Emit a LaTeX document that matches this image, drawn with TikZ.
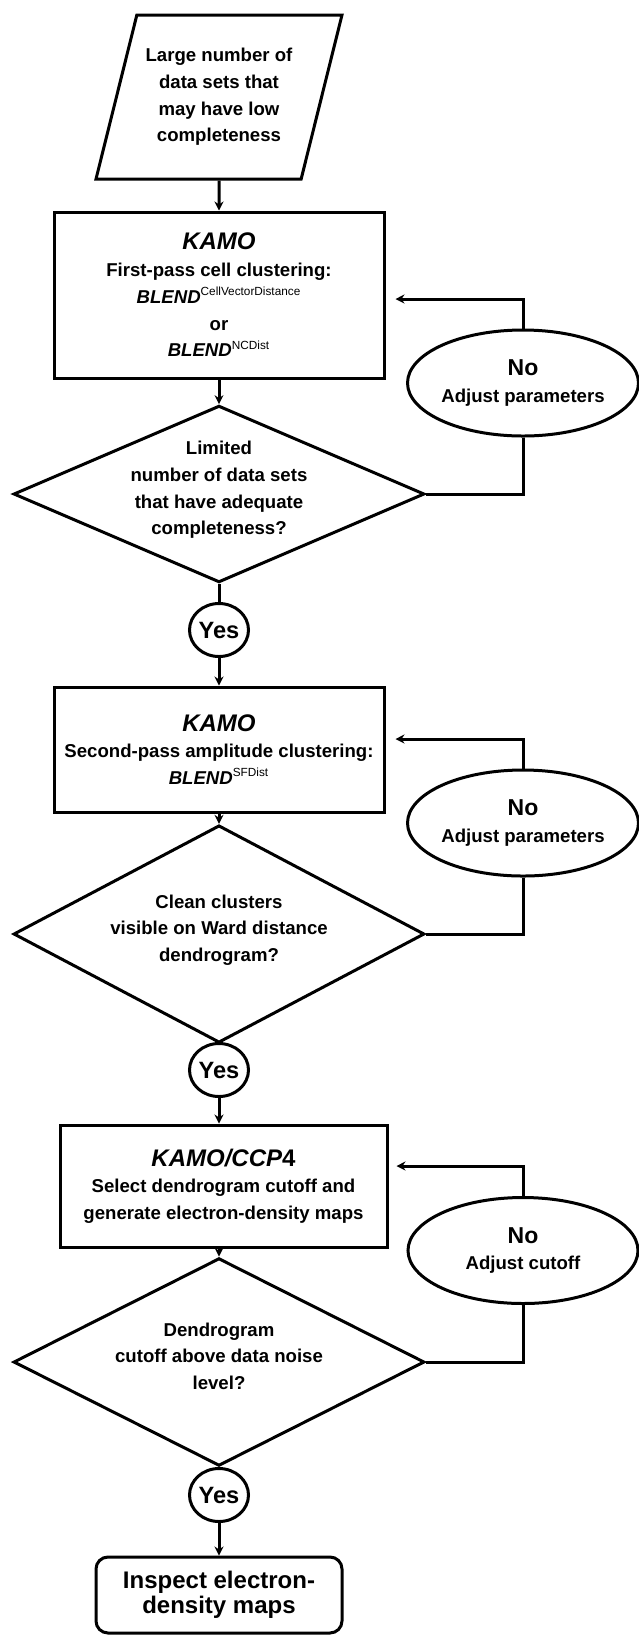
\documentclass[tikz,border=0pt]{standalone}
\usepackage{fontspec}
\setmainfont{Liberation Sans}
\usetikzlibrary{shapes.geometric, arrows.meta}

\newcommand{\blend}[1]{\textit{BLEND}\textsuperscript{\mdseries\fontsize{5.9pt}{6pt}\selectfont #1}}
\newcommand{\bigit}[1]{{\fontsize{12pt}{15pt}\selectfont\itshape #1}}

\begin{document}
\begin{tikzpicture}[x=0.5pt, y=-0.5pt, line width=1.5pt]
					\tikzstyle{every node} = [font=\bfseries\fontsize{9.3pt}{13.35pt}\selectfont, align=center]
					\tikzstyle{input} = [trapezium, trapezium left angle=76, trapezium right angle=104, trapezium stretches body, draw=black, minimum width=123pt, minimum height=82pt, inner xsep=0pt, inner ysep=16.6pt]
					\tikzstyle{process} = [rectangle, draw=black, minimum width=165pt, inner sep=0pt]
					\tikzstyle{decision} = [diamond, draw=black, minimum width=205.5pt, minimum height=81pt, inner sep=0pt]
					\tikzstyle{adjust} = [ellipse, draw=black, minimum width=115pt, minimum height=53pt, inner sep=0pt]
					\tikzstyle{yes} = [ellipse, draw=black, minimum width=29.5pt, minimum height=26.5pt, inner sep=0pt, font=\bfseries\fontsize{11.8pt}{14pt}\selectfont]
					\tikzstyle{result} = [rectangle, rounded corners=6pt, draw=black, minimum width=123pt, minimum height=38pt, inner sep=0pt, font=\bfseries\fontsize{12pt}{12.5pt}\selectfont]
					\tikzstyle{edge} = [-]
					\tikzstyle{arrow} = [-{Stealth[length=4.5pt, width=4.5pt, inset=1.5pt]}]
					\useasboundingbox (0,0) rectangle (638,1635);
					\node[input] (n1) at (219,97) {Large number of\\data sets that\\may have low\\completeness};
					\node[process, minimum height=83pt] (n2) at (219,295) {\bigit{KAMO}\\First-pass cell clustering:\\\blend{CellVectorDistance}\\or\\\blend{NCDist}};
					\node[adjust] (n3) at (523,383) {{\fontsize{11.5pt}{14pt}\selectfont No}\\Adjust parameters};
					\node[decision] (n4) at (219,494) {\smash{\begin{tabular}{@{}c@{}}Limited\\number of data sets\\that have adequate\\completeness?\end{tabular}}};
					\node[yes] (n5) at (219,630) {Yes};
					\node[process, minimum height=62.5pt] (n6) at (219,749.5) {\bigit{KAMO}\\Second-pass amplitude clustering:\\\blend{SFDist}};
					\node[adjust] (n7) at (523,823) {{\fontsize{11.5pt}{14pt}\selectfont No}\\Adjust parameters};
					\node[decision] (n8) at (219,934) {\smash{\begin{tabular}{@{}c@{}}Clean clusters\\visible on Ward distance\\dendrogram?\end{tabular}}};
					\node[yes] (n9) at (219,1070) {Yes};
					\node[process, minimum width=163.5pt, minimum height=61pt] (n10) at (223.5,1186) {\bigit{KAMO/CCP}{\fontsize{12pt}{15pt}\selectfont 4}\\Select dendrogram cutoff and\\generate electron-density maps};
					\node[adjust] (n11) at (523,1250.5) {{\fontsize{11.5pt}{14pt}\selectfont No}\\Adjust cutoff};
					\node[decision] (n12) at (219,1362) {\smash{\begin{tabular}{@{}c@{}}Dendrogram\\cutoff above data noise\\level?\end{tabular}}};
					\node[yes] (n13) at (219,1495) {Yes};
					\node[result] (n14) at (219,1595) {Inspect electron-\\density maps};
					\draw[arrow] (n1.south) -- (n2.north);
					\draw[arrow] (n2.south) -- (n4.north);
					\draw[edge] (n4.south) -- (n5.north);
					\draw[arrow] (n5.south) -- (n6.north);
					\draw[edge] (n4.east) -| (n3.south);
					\draw[arrow, shorten >=5pt] (n3.north) |- ([yshift=-2pt]n2.east);
					\draw[arrow] (n6.south) -- (n8.north);
					\draw[edge] (n8.south) -- (n9.north);
					\draw[arrow] (n9.south) -- (n9.south |- n10.north);
					\draw[edge] (n8.east) -| (n7.south);
					\draw[arrow, shorten >=5pt] (n7.north) |- ([yshift=5.25pt]n6.east);
					\draw[arrow] (n10.south -| n12.north) -- (n12.north);
					\draw[edge] (n12.south) -- (n13.north);
					\draw[arrow] (n13.south) -- (n14.north);
					\draw[edge] (n12.east) -| (n11.south);
					\draw[arrow, shorten >=4pt] (n11.north) |- ([yshift=10pt]n10.east);
					\end{tikzpicture}
\end{document}
